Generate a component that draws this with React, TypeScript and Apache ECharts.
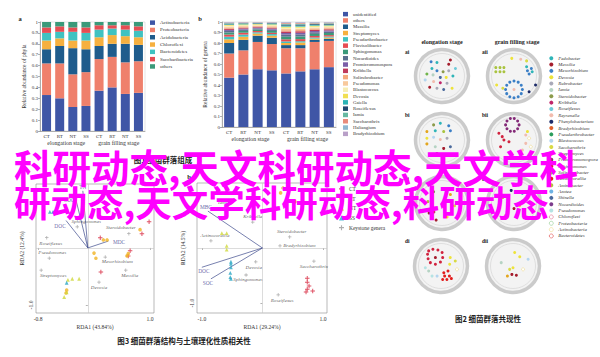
import React, { useEffect, useRef } from 'react';
import * as echarts from 'echarts';

// ---------- DATA ----------
const stages = ['CT', 'RT', 'NT', 'SS', 'CT', 'RT', 'NT', 'SS'];
const stageGroups = ['elongation stage', 'grain filling stage'];

const phylaNames = ['Actinobacteria', 'Proteobacteria', 'Acidobacteria', 'Chloroflexi', 'Bacteroidetes', 'Saccharibacteria', 'others'];
const actinobacteria = [0.33, 0.30, 0.22, 0.23, 0.37, 0.40, 0.34, 0.35];
const proteobacteria = [0.29, 0.32, 0.30, 0.31, 0.29, 0.28, 0.29, 0.29];
const acidobacteria = [0.13, 0.16, 0.24, 0.21, 0.12, 0.12, 0.17, 0.15];
const chloroflexi = [0.08, 0.07, 0.07, 0.08, 0.08, 0.08, 0.07, 0.07];
const bacteroidetes = [0.07, 0.06, 0.08, 0.07, 0.07, 0.06, 0.06, 0.06];
const saccharibacteria = [0.05, 0.05, 0.04, 0.05, 0.04, 0.03, 0.04, 0.04];
const othersPhyla = [0.05, 0.04, 0.05, 0.05, 0.03, 0.03, 0.03, 0.04];

const genusNames = ['unidentified', 'others', 'Massilia', 'Streptomyces', 'Pseudarthrobacter', 'Flavisolibacter', 'Sphingomonas', 'Nocardioides', 'Promicromonospora', 'Kribbella', 'Solirubrobacter', 'Pseudomonas', 'Blastococcus', 'Devosia', 'Gaiella', 'Roseiflexus', 'Iamia', 'Saccharothrix', 'Haliangium', 'Bradyrhizobium'];
const unidentified = [0.47, 0.50, 0.55, 0.54, 0.51, 0.53, 0.55, 0.57];
const othersGenus = [0.23, 0.23, 0.26, 0.25, 0.24, 0.22, 0.26, 0.25];
const massilia = [0.10, 0.10, 0.06, 0.06, 0.03, 0.03, 0.02, 0.02];
const streptomyces = [0.035, 0.03, 0.02, 0.02, 0.02, 0.025, 0.012, 0.012];
const pseudarthrobacter = [0.025, 0.02, 0.012, 0.015, 0.015, 0.012, 0.01, 0.01];
const flavisolibacter = [0.02, 0.018, 0.012, 0.012, 0.02, 0.02, 0.015, 0.013];
const sphingomonas = [0.02, 0.017, 0.015, 0.018, 0.025, 0.025, 0.02, 0.02];
const nocardioides = [0.015, 0.013, 0.01, 0.012, 0.02, 0.02, 0.015, 0.014];
const promicromonospora = [0.01, 0.009, 0.008, 0.01, 0.015, 0.015, 0.012, 0.011];
const kribbella = [0.01, 0.009, 0.008, 0.009, 0.015, 0.015, 0.012, 0.011];
const solirubrobacter = [0.01, 0.008, 0.007, 0.008, 0.012, 0.012, 0.01, 0.01];
const pseudomonas = [0.01, 0.008, 0.006, 0.008, 0.012, 0.012, 0.01, 0.009];
const blastococcus = [0.01, 0.008, 0.006, 0.008, 0.012, 0.01, 0.01, 0.009];
const devosia = [0.008, 0.007, 0.006, 0.007, 0.01, 0.01, 0.009, 0.008];
const gaiella = [0.006, 0.005, 0.005, 0.006, 0.01, 0.01, 0.008, 0.008];
const roseiflexus = [0.005, 0.004, 0.004, 0.005, 0.009, 0.009, 0.007, 0.007];
const iamia = [0.005, 0.004, 0.004, 0.004, 0.008, 0.008, 0.006, 0.006];
const saccharothrix = [0.004, 0.004, 0.003, 0.003, 0.007, 0.007, 0.006, 0.005];
const haliangium = [0.004, 0.003, 0.002, 0.003, 0.006, 0.006, 0.005, 0.004];
const bradyrhizobium = [0.003, 0.003, 0.002, 0.002, 0.004, 0.004, 0.003, 0.003];

// RDA (left): environmental arrows, keystone genera, samples
const envD = [
  { name: 'DOC', v: [-0.35, 0.48] },
  { name: 'SOC', v: [-0.19, 0.84] },
  { name: 'TN', v: [-0.08, 1.0] },
  { name: 'MDC', v: [0.33, 0.12] },
];
const speciesD = [
  { name: 'Sphingomonas', v: [-0.17, 0.37] },
  { name: 'Steroidobacter', v: [0.66, 0.25] },
  { name: 'Roseiflexus', v: [-0.66, 0.18] },
  { name: 'Pseudomonas', v: [-0.62, -0.18] },
  { name: 'Streptomyces', v: [-0.75, -0.39] },
  { name: 'Mesorhizobium', v: [0.28, -0.16] },
  { name: 'Massilia', v: [0.61, -0.39] },
  { name: 'Devosia', v: [0.18, -0.6] },
];
const ctD = [[0.985, 0.46], [0.87, 0.25], [0.2, 0.18], [0.68, -0.05], [0.65, -0.14], [0.21, -0.42]];
const rtD = [[0.84, 0.32], [0.25, 0.14], [0.31, 0.14], [0.1, -0.09], [0.13, -0.18], [0.63, -0.14], [0.65, -0.1], [-0.48, 0.79], [-0.34, -0.74], [-0.35, -0.79]];
const ntD = [[-0.32, -0.56], [-0.25, -0.54], [-0.14, -0.54], [-0.38, -0.86], [-0.34, -0.78]];
const ssD = [[-0.34, -0.61], [-0.61, 0.63], [-0.56, 0.63]];

// RDA (right)
const envE = [
  { name: 'MBC', v: [-0.9, 0.67] },
  { name: 'DOC', v: [-1.0, -0.35] },
  { name: 'SOC', v: [-0.85, -0.56] },
];
const speciesE = [
  { name: 'Iamia', v: [-0.57, 0.73] },
  { name: 'Kribbella', v: [-0.16, 0.47] },
  { name: 'Actinocorallia', v: [-0.85, 0.13] },
  { name: 'Steroidobacter', v: [0.45, 0.2] },
  { name: 'Bradyrhizobium', v: [0.29, 0.04] },
  { name: 'Devosia', v: [-0.11, -0.25] },
  { name: 'Saccharothrix', v: [0.85, -0.24] },
  { name: 'Sphingomonas', v: [-0.27, -0.49] },
  { name: 'Roseiflexus', v: [0.26, -0.85] },
];
const ctE = [[0.74, -0.55], [0.74, -0.62], [0.77, -0.69], [0.74, -0.75], [0.72, -0.8], [0.83, -0.78]];
const rtE = [[0.34, 1.09], [0.54, 0.84], [0.3, 1.0]];
const ntE = [[-0.59, 0.27], [-0.67, 0.27], [-0.59, 0.04], [-0.59, -0.03]];
const ssE = [[-0.52, -0.25], [-0.52, -0.29], [-0.52, -0.35], [-0.53, -0.45], [-0.53, -0.53], [-0.52, -0.56]];
const sampleNames = ['CT', 'RT', 'NT', 'SS', 'Keystone genera'];

// Co-occurrence networks
const netCats = ['Pedobacter', 'Massilia', 'Mesorhizobium', 'Devosia', 'Rubrobacter', 'Iamia', 'Steroidobacter', 'Kribbella', 'Roseiflexus', 'Reyranella', 'Phenylobacterium', 'Bradyrhizobium', 'Pseudarthrobacter', 'Blastococcus', 'Saccharothrix', 'Streptomyces', 'Promicromonospora', 'Sphingomonas', 'Solirubrobacter', 'Actinocorallia', 'Aminobacter', 'Azotea', 'Shinella', 'Nocardioides', 'Pseudomonas', 'Chloroflexi', 'Proteobacteria', 'Actinobacteria', 'Bacteroidetes'];
const netAi = [[-0.39, 0.51, 2], [-0.18, 0.48, 0], [0.24, 0.42, 1], [0.3, 0.57, 1], [-0.36, 0.27, 0], [-0.18, 0.19, 2], [0.04, 0.15, 6], [0.24, 0.19, 4], [0.48, 0.27, 8], [-0.54, 0.07, 18], [-0.32, 0.04, 5], [-0.06, -0.05, 22], [0.15, -0.05, 3], [0.39, 0, 0], [-0.6, -0.14, 13], [-0.3, -0.2, 9], [-0.06, -0.24, 7], [0.18, -0.26, 4], [-0.44, -0.4, 1], [-0.18, -0.44, 4], [0.06, -0.48, 22], [0.36, -0.44, 3]];
const netAii = [[-0.65, 0.3, 20], [-0.5, 0.3, 20], [-0.36, 0.3, 20], [-0.65, 0.15, 20], [-0.5, 0.15, 20], [-0.36, 0.15, 20], [0.45, 0.33, 0], [0.62, 0.27, 2], [0.48, 0.19, 2], [0.65, 0.15, 0], [0.54, 0.07, 2], [-0.08, 0.63, 3], [0.24, 0.6, 9], [0.45, 0.54, 14], [-0.62, -0.32, 3], [-0.4, -0.44, 14], [0.77, -0.32, 10], [0.54, -0.56, 10], [0.3, -0.48, 2], [0.26, -0.33, 2], [0.15, -0.22, 2], [0, -0.18, 2], [-0.15, -0.22, 2], [-0.26, -0.33, 2], [-0.3, -0.48, 2], [-0.26, -0.63, 2], [-0.15, -0.74, 2], [0, -0.78, 2], [0.15, -0.74, 2], [0.26, -0.63, 2], [0, -0.48, 9]];
const netBi = [[-0.3, 0.54, 6], [-0.06, 0.6, 0], [0.24, 0.51, 2], [-0.54, 0.3, 15], [-0.24, 0.33, 0], [0.06, 0.3, 20], [0.3, 0.33, 2], [-0.54, 0.06, 3], [-0.3, 0.1, 13], [-0.06, 0.02, 9], [0.18, 0.06, 4], [-0.54, -0.14, 15], [-0.24, -0.24, 5], [0.06, -0.3, 1], [0.3, -0.24, 22], [-0.18, -0.48, 7], [0.18, -0.54, 1]];
const netBii = [[0.18, 0.54, 16], [0.13, 0.68, 16], [0.01, 0.77, 16], [-0.13, 0.77, 16], [-0.25, 0.68, 16], [-0.3, 0.54, 16], [-0.25, 0.4, 16], [-0.13, 0.31, 16], [0.01, 0.31, 16], [0.13, 0.4, 16], [-0.54, 0.24, 17], [-0.42, 0.12, 17], [-0.36, 0, 17], [-0.18, -0.06, 17], [-0.48, -0.24, 17], [0.42, 0.18, 9], [0.54, 0.06, 27], [0.42, -0.12, 9], [0.6, -0.24, 27], [0.3, -0.36, 9], [0.48, 0.3, 3]];
const netCi = [[-0.46, -0.36, 1], [-0.21, -0.61, 1], [0.18, -0.5, 3], [-0.29, -0.32, 7], [0.3, 0.3, 15], [-0.3, 0.4, 12], [0.1, 0.1, 2], [0.45, -0.1, 14], [-0.5, 0.05, 20]];
const netCii = [[0, -0.2, 1], [0.2, -0.1, 3], [-0.3, -0.45, 15], [0.35, -0.45, 14], [-0.4, 0.2, 20], [0.3, 0.35, 2], [-0.1, 0.45, 10]];
const netDi = [[-0.44, 0.54, 17], [-0.29, 0.6, 17], [-0.11, 0.57, 17], [0.04, 0.48, 17], [0.06, 0.3, 17], [-0.02, 0.14, 17], [-0.2, 0.06, 17], [-0.38, 0.12, 17], [-0.46, 0.26, 17], [-0.48, 0.42, 17], [-0.2, 0.3, 1], [0.1, -0.24, 19], [0.25, -0.18, 19], [0.13, -0.36, 19], [0.3, -0.36, 19], [0.21, -0.48, 19], [0.37, -0.45, 19], [0.06, -0.48, 19], [0.33, 0.3, 3], [0.51, 0.18, 14], [0.31, 0.06, 3], [0.57, -0.12, 27], [-0.56, -0.06, 24], [-0.44, -0.18, 5], [-0.32, -0.36, 24], [-0.14, -0.36, 13]];
const netDii = [[0.06, 0.48, 3], [0.24, 0.33, 3], [0, -0.06, 3], [-0.12, -0.12, 14], [-0.04, -0.3, 1], [0.12, -0.33, 1], [-0.2, -0.36, 15], [0.36, -0.12, 27], [-0.42, 0.12, 5], [0.54, 0.24, 13]];

// ---------- STYLE / LAYOUT ----------
const phylaColors = ['#3f56a6', '#ef806c', '#1f5c8c', '#f6b03f', '#40c2c1', '#e64d53', '#3b9a7a'];
const genusColors = ['#3f56a6', '#ef806c', '#1f5c8c', '#f6b03f', '#40c2c1', '#e64d53', '#3b9a7a', '#5b6f8e', '#7b5ea7', '#c03a5b', '#f4a97d', '#f8c99c', '#f7edb3', '#f1df52', '#2bb4b6', '#22476f', '#66b9a2', '#e98b7b', '#90b7d1', '#b9a0c8'];
const netColors = ['#2fb5b8', '#a51d2d', '#3b7fc6', '#ede33b', '#a9a9b8', '#b5d3c3', '#8c9b4b', '#c0256a', '#6fcbd9', '#f1bcae', '#1c2a68', '#e0612c', '#2a9d5c', '#b3d5ef', '#d9da45', '#e3a61f', '#842a78', '#d1233f', '#70b54b', '#e21d1d', '#a9c33f', '#6db3e4', '#4b6a9c', '#7c3c8c', '#b5e3e3', '#e0708f', '#8cc98c', '#efd98a', '#e04848'];
const hollowFrom = 25;
const sampleColors = ['#d7263d', '#f0b323', '#cfd83c', '#2aa6c4', '#9a9a9a'];
const PLUS = 'path://M-0.22,-1H0.22V-0.22H1V0.22H0.22V1H-0.22V0.22H-1V-0.22H-0.22Z';
const sampleSymbols = [PLUS, 'circle', 'triangle', 'triangle', PLUS];
const sampleSizes = [4.5, 3.6, 3.8, 3.8, 3.5];
const SERIF = '"Liberation Serif", "DejaVu Serif", serif';
const CJK = '"Noto Sans CJK SC", "Noto Sans CJK JP", sans-serif';

const labelD: Record<string, [string, number, number]> = {
  Sphingomonas: ['top', 9, 0], Steroidobacter: ['top', -8, 0], Roseiflexus: ['bottom', 4, 0], Pseudomonas: ['top', 3, 0],
  Streptomyces: ['bottom', 12, 0], Mesorhizobium: ['bottom', 12, -1], Massilia: ['bottom', 4, 0], Devosia: ['bottom', 0, 0],
};
const labelE: Record<string, [string, number, number]> = {
  Iamia: ['top', -4, 0], Kribbella: ['top', 0, 0], Actinocorallia: ['top', 4, 0], Steroidobacter: ['top', 2, 0],
  Bradyrhizobium: ['right', 0, 0], Devosia: ['bottom', -2, 0], Saccharothrix: ['bottom', 0, 0], Sphingomonas: ['bottom', 2, -1], Roseiflexus: ['bottom', 4, 0],
};
const envLabelD: Record<string, [string, number, number]> = { DOC: ['bottom', -6, 1], SOC: ['left', 0, 0], TN: ['top', 0, 0], MDC: ['right', 3, 1] };
const envLabelE: Record<string, [string, number, number]> = { MBC: ['top', -2, 0], DOC: ['bottom', 2, 0], SOC: ['bottom', -3, 0] };

const netCenters = [[442, 76], [514, 76], [442, 140], [514, 140], [442, 203], [514, 203], [441, 266], [513, 266]];
const netSets = [netAi, netAii, netBi, netBii, netCi, netCii, netDi, netDii];
const netLabels = ['ai', 'aii', 'bi', 'bii', 'ci', 'cii', 'di', 'dii'];
const netLabelPos = [[405, 52], [482, 52], [405, 115], [482, 115], [405, 179], [482, 179], [405, 241], [482, 241]];

function buildOption(): any {
  const phylaValues = [actinobacteria, proteobacteria, acidobacteria, chloroflexi, bacteroidetes, saccharibacteria, othersPhyla];
  const genusValues = [unidentified, othersGenus, massilia, streptomyces, pseudarthrobacter, flavisolibacter, sphingomonas, nocardioides, promicromonospora, kribbella, solirubrobacter, pseudomonas, blastococcus, devosia, gaiella, roseiflexus, iamia, saccharothrix, haliangium, bradyrhizobium];

  const axisTxt = { fontSize: 5, color: '#333', fontFamily: SERIF };
  const lineGray = { lineStyle: { color: '#666', width: 0.5 } };

  const grids: any[] = [
    { left: 40, top: 22, width: 105, height: 109, show: true, borderColor: '#c8c8c8', borderWidth: 0.5 },
    { left: 222, top: 22, width: 114, height: 105, show: true, borderColor: '#c8c8c8', borderWidth: 0.5 },
    { left: 36, top: 184, width: 118, height: 129, show: true, borderColor: '#8a8a8a', borderWidth: 0.6 },
    { left: 197, top: 183, width: 130, height: 130, show: true, borderColor: '#8a8a8a', borderWidth: 0.6 },
  ];
  netCenters.forEach(([cx, cy]) => grids.push({ left: cx - 28, top: cy - 28, width: 56, height: 56 }));

  const catAxis = (gi: number) => ({
    type: 'category', gridIndex: gi, data: stages,
    axisLine: lineGray, axisTick: { length: 2, ...lineGray }, axisLabel: { ...axisTxt, interval: 0, margin: 3 },
  });
  const groupAxis = (gi: number) => ({
    type: 'category', gridIndex: gi, data: stageGroups, position: 'bottom', offset: 7,
    axisLine: { show: false }, axisTick: { show: false }, axisLabel: { fontSize: 5.8, color: '#333', fontFamily: SERIF, interval: 0, margin: 2 },
  });
  const pctAxis = (gi: number, name: string, gap: number) => ({
    type: 'value', gridIndex: gi, min: 0, max: 1, interval: 0.1,
    name, nameLocation: 'middle', nameGap: gap, nameRotate: 90, nameTextStyle: { fontSize: 5.6, color: '#333', fontFamily: SERIF },
    axisLine: { show: true, ...lineGray }, axisTick: { show: true, length: 2, ...lineGray }, splitLine: { show: false },
    axisLabel: { ...axisTxt, margin: 2, formatter: (v: number) => (v === 0 ? '0' : v === 1 ? '1' : v.toFixed(1)) },
  });
  const rdaX = (gi: number, min: number, max: number, ticks: number[], name: string) => ({
    type: 'value', gridIndex: gi, min, max, name, nameLocation: 'middle', nameGap: 11,
    nameTextStyle: { fontSize: 5.6, color: '#333', fontFamily: SERIF },
    axisLine: { show: false }, splitLine: { show: false },
    axisTick: { show: true, customValues: ticks, length: 2, ...lineGray },
    axisLabel: { ...axisTxt, fontSize: 5.6, margin: 3, customValues: ticks, formatter: (v: number) => v.toFixed(1) },
  });
  const rdaY = (gi: number, min: number, max: number, ticks: number[], name: string) => ({
    type: 'value', gridIndex: gi, min, max, name, nameLocation: 'middle', nameGap: 11, nameRotate: 90,
    nameTextStyle: { fontSize: 5.6, color: '#333', fontFamily: SERIF },
    axisLine: { show: false }, splitLine: { show: false },
    axisTick: { show: true, customValues: ticks, length: 2, ...lineGray },
    axisLabel: { ...axisTxt, fontSize: 5.6, margin: 2, rotate: 90, customValues: ticks, formatter: (v: number) => v.toFixed(1) },
  });
  const hidden = (gi: number) => ({ type: 'value', gridIndex: gi, min: -1, max: 1, show: false });

  const xAxis: any[] = [catAxis(0), groupAxis(0), catAxis(1), groupAxis(1),
    rdaX(2, -0.833, 1.064, [-0.8, 1.0], 'RDA1 (43.84%)'), rdaX(3, -1.08, 1.066, [-1.0, 1.0], 'RDA1 (29.24%)')];
  const yAxis: any[] = [pctAxis(0, 'Relative abundance of phyla', 13), pctAxis(1, 'Relative abundance of genera', 14),
    rdaY(2, -1.14, 1.12, [-1.0], 'RDA2 (12.4%)'), rdaY(3, -1.18, 1.18, [-1.0], 'RDA2 (14.5%)')];
  netCenters.forEach((_, i) => { xAxis.push(hidden(4 + i)); yAxis.push(hidden(4 + i)); });

  const series: any[] = [];
  phylaNames.forEach((n, i) => series.push({
    type: 'bar', name: n, stack: 'phyla', xAxisIndex: 0, yAxisIndex: 0, barWidth: 9,
    data: phylaValues[i], itemStyle: { color: phylaColors[i] },
  }));
  genusNames.forEach((n, i) => series.push({
    type: 'bar', name: n, stack: 'genus', xAxisIndex: 2, yAxisIndex: 1, barWidth: 10,
    data: genusValues[i], itemStyle: { color: genusColors[i] },
  }));

  const rda = (xi: number, yi: number, env: any[], envLab: any, species: any[], spLab: any, samples: number[][][]) => {
    series.push({
      type: 'scatter', name: 'Keystone genera', xAxisIndex: xi, yAxisIndex: yi, symbol: PLUS, symbolSize: 3.5,
      itemStyle: { color: '#9a9a9a' }, z: 3,
      data: species.map((s) => ({
        name: s.name, value: s.v,
        label: { show: true, formatter: '{b}', position: spLab[s.name] ? spLab[s.name][0] : 'top', offset: spLab[s.name] ? [spLab[s.name][1], spLab[s.name][2]] : [0, 0], distance: 1.5 },
      })),
      label: { fontSize: 5, fontStyle: 'italic', color: '#333', fontFamily: SERIF },
      markLine: {
        silent: true, symbol: ['none', 'none'], label: { show: false }, animation: false,
        lineStyle: { color: '#c4c4c4', width: 0.6, type: 'solid' },
        data: [{ xAxis: 0 }, { yAxis: 0 }],
      },
    });
    series.push({
      type: 'scatter', name: 'env', xAxisIndex: xi, yAxisIndex: yi, symbolSize: 0.1, z: 4,
      data: env.map((e) => ({
        name: e.name, value: e.v,
        label: { show: true, formatter: '{b}', position: envLab[e.name][0], offset: [envLab[e.name][1], envLab[e.name][2]], distance: 1.5 },
      })),
      label: { fontSize: 5.4, color: '#3b3b8f', fontFamily: SERIF },
      markLine: {
        silent: true, symbol: ['none', 'arrow'], symbolSize: [0, 3.5], label: { show: false }, animation: false,
        lineStyle: { color: '#3d4a8c', width: 0.7, type: 'solid' },
        data: env.map((e) => [{ coord: [0, 0] }, { coord: e.v }]),
      },
    });
    samples.forEach((d, k) => series.push({
      type: 'scatter', name: sampleNames[k], xAxisIndex: xi, yAxisIndex: yi, symbol: sampleSymbols[k], symbolSize: sampleSizes[k],
      itemStyle: { color: sampleColors[k] }, data: d, z: 5,
    }));
  };
  rda(4, 2, envD, envLabelD, speciesD, labelD, [ctD, rtD, ntD, ssD]);
  rda(5, 3, envE, envLabelE, speciesE, labelE, [ctE, rtE, ntE, ssE]);

  const categories = netCats.map((n, k) => ({
    name: n,
    itemStyle: k >= hollowFrom ? { color: '#ffffff', borderColor: netColors[k], borderWidth: 0.6 } : { color: netColors[k] },
  }));
  netSets.forEach((set, i) => series.push({
    type: 'graph', coordinateSystem: 'cartesian2d', xAxisIndex: 6 + i, yAxisIndex: 4 + i, layout: 'none',
    categories, symbolSize: 3, silent: true, label: { show: false }, z: 3,
    data: set.map(([x, y, c]) => ({ value: [x, y], category: c })),
    links: [],
  }));

  const legendText = { fontSize: 5, color: '#333', fontFamily: SERIF };
  const legend: any[] = [
    {
      left: 150, top: 19, orient: 'vertical', itemWidth: 5, itemHeight: 4.5, itemGap: 0, icon: 'rect', padding: 0, selectedMode: false,
      textStyle: { ...legendText, lineHeight: 7.3 },
      data: phylaNames.map((n, i) => ({ name: n, itemStyle: { color: phylaColors[i] } })),
    },
    {
      left: 343, top: 11, orient: 'vertical', itemWidth: 5, itemHeight: 4.5, itemGap: 0, icon: 'rect', padding: 0, selectedMode: false,
      textStyle: { ...legendText, fontSize: 4.8, lineHeight: 6.3 },
      data: genusNames.map((n, i) => ({ name: n, itemStyle: { color: genusColors[i] } })),
    },
    {
      left: 549, top: 55, orient: 'vertical', itemWidth: 4, itemHeight: 4, itemGap: 0, icon: 'circle', padding: 0, selectedMode: false,
      textStyle: { ...legendText, fontSize: 4.8, lineHeight: 6.35, fontStyle: 'italic' },
      data: netCats.map((n, k) => ({
        name: n,
        itemStyle: k >= hollowFrom ? { color: '#ffffff', borderColor: netColors[k], borderWidth: 0.6 } : { color: netColors[k], borderWidth: 0 },
      })),
    },
    {
      left: 339, top: 184, orient: 'vertical', itemWidth: 5, itemHeight: 5, itemGap: 0, padding: 0, selectedMode: false,
      textStyle: { ...legendText, fontSize: 5.4, lineHeight: 9.7 },
      data: sampleNames.map((n, k) => ({ name: n, icon: sampleSymbols[k], itemStyle: { color: sampleColors[k] } })),
    },
  ];

  const txt = (text: string, x: number, y: number, font: string, fill = '#222', align = 'center', z = 10) => ({
    type: 'text', x, y, z, silent: true,
    style: { text, font, fill, textAlign: align, textVerticalAlign: 'middle', align, verticalAlign: 'middle' },
  });
  const graphic: any[] = [];
  netCenters.forEach(([cx, cy]) => {
    graphic.push({ type: 'circle', z: 0, silent: true, shape: { cx, cy, r: 26.5 }, style: { fill: '#f3f3f3', stroke: '#cbcbcb', lineWidth: 3.5 } });
    graphic.push({ type: 'circle', z: 0, silent: true, shape: { cx, cy, r: 22.5 }, style: { fill: 'none', stroke: '#d9d9d9', lineWidth: 0.8 } });
  });
  netLabels.forEach((l, i) => graphic.push(txt(l, netLabelPos[i][0], netLabelPos[i][1], `bold 5.5px ${SERIF}`, '#222', 'left')));
  graphic.push(txt('elongation stage', 442, 42, `bold 6px ${SERIF}`));
  graphic.push(txt('grain filling stage', 517, 42, `bold 6px ${SERIF}`));
  graphic.push(txt('a', 20, 18, `bold 6.5px ${SERIF}`));
  graphic.push(txt('b', 200, 18, `bold 6.5px ${SERIF}`));
  graphic.push(txt('a', 23, 176, `bold 6.5px ${SERIF}`));
  graphic.push(txt('b', 189, 176, `bold 6.5px ${SERIF}`));
  graphic.push(txt('图1 细菌群落组成', 163, 159, `bold 7.5px ${CJK}`));
  graphic.push(txt('图3 细菌群落结构与土壤理化性质相关性', 184, 340, `bold 7.5px ${CJK}`));
  graphic.push(txt('图2 细菌群落共现性', 488, 318, `bold 7.5px ${CJK}`));
  graphic.push(txt('科研动态,天文科研动态,天文学科', 14, 166, `bold 38.5px ${CJK}`, '#ff00ff', 'left', 100));
  graphic.push(txt('研动态,天文学科研动态,科研动态', 14, 201, `bold 36.5px ${CJK}`, '#ff00ff', 'left', 100));

  return { animation: false, backgroundColor: '#ffffff', grid: grids, xAxis, yAxis, series, legend, graphic };
}

export default function App() {
  const ref = useRef<HTMLDivElement>(null);
  useEffect(() => {
    document.body.style.margin = '0';
    const chart = echarts.init(ref.current!, null, { renderer: 'svg' });
    chart.setOption(buildOption());
    return () => chart.dispose();
  }, []);
  return <div ref={ref} style={{ width: 600, height: 357, position: 'absolute', left: 0, top: 0 }} />;
}
